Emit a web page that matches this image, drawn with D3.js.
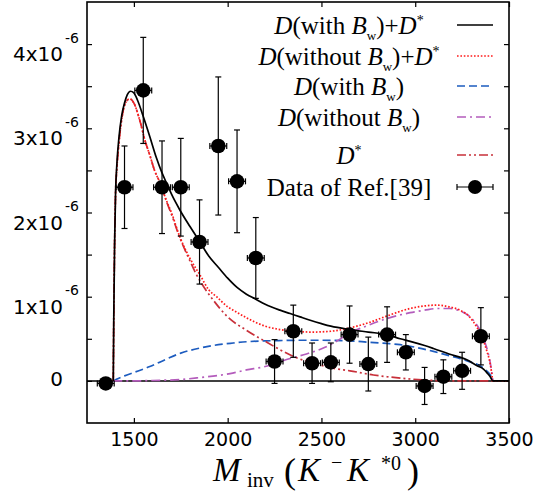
<!DOCTYPE html>
<html><head><meta charset="utf-8">
<script src="https://cdn.jsdelivr.net/npm/d3@7"></script>
<style>body{margin:0;background:#fff}</style>
</head><body><svg id="c" width="535" height="496"></svg>
<script>
// ---------- DATA (y values in units of 10^-6) ----------
const xTickValues = [1500, 2000, 2500, 3000, 3500];
const yTickValues = [0, 1, 2, 3, 4];
const yTickLabels = ["0", "1x10", "2x10", "3x10", "4x10"];
const yTickExponents = ["", "-6", "-6", "-6", "-6"];
const yAllTicks = [0, 0.5, 1, 1.5, 2, 2.5, 3, 3.5, 4];

const dataX = [1350,1450,1550,1650,1750,1850,1950,2050,2150,2250,2350,2450,2550,2650,2750,2850,2950,3050,3150,3250,3350];
const dataY = [-0.03,2.30,3.45,2.30,2.30,1.65,2.79,2.37,1.46,0.23,0.59,0.21,0.22,0.55,0.20,0.55,0.34,-0.06,0.05,0.12,0.53];
const dataErr = [0.0,0.49,0.63,0.55,0.58,0.50,0.82,0.61,0.48,0.26,0.31,0.24,0.23,0.34,0.32,0.33,0.21,0.22,0.20,0.22,0.34];
const dataXErr = 45;

// D(with Bw)+D*
const totalWithX = [1390,1393,1397,1402,1410,1420,1435,1450,1465,1482,1500,1520,1550,1585,1620,1650,1674,1700,1745,1800,1852,1900,1950,2000,2050,2100,2150,2200,2279,2333,2386,2440,2500,2550,2652,2750,2848,2920,2973,3050,3097,3180,3275,3330,3364,3385,3400,3414,3500];
const totalWithY = [0,0.8,1.6,2.2,2.6,2.88,3.15,3.30,3.40,3.44,3.42,3.33,3.14,2.90,2.65,2.47,2.35,2.22,2.03,1.83,1.65,1.48,1.35,1.22,1.11,1.03,0.97,0.91,0.84,0.80,0.76,0.72,0.68,0.65,0.61,0.58,0.55,0.50,0.47,0.42,0.385,0.32,0.25,0.18,0.14,0.09,0.05,0,0];
// D(without Bw)+D*
const totalWithoutX = [1390,1393,1397,1402,1410,1420,1443,1460,1478,1500,1532,1560,1585,1610,1638,1674,1700,1745,1800,1852,1900,1941,2000,2030,2100,2200,2279,2350,2450,2550,2652,2750,2848,2973,3050,3114,3180,3239,3290,3328,3360,3381,3400,3408,3414,3500];
const totalWithoutY = [0,0.8,1.6,2.2,2.55,2.82,3.21,3.32,3.35,3.30,3.09,2.85,2.68,2.50,2.36,2.14,2.0,1.71,1.45,1.26,1.08,1.0,0.88,0.84,0.75,0.65,0.61,0.59,0.58,0.59,0.63,0.69,0.77,0.86,0.89,0.90,0.88,0.84,0.76,0.64,0.50,0.36,0.2,0.09,0,0];
// D(with Bw)
const dWithX = [1390,1407,1450,1500,1585,1674,1750,1852,1950,2030,2100,2200,2300,2400,2500,2652,2750,2848,2920,3000,3097,3180,3240,3300,3346,3380,3400,3414];
const dWithY = [0,0.02,0.06,0.10,0.17,0.26,0.33,0.39,0.43,0.45,0.465,0.475,0.48,0.483,0.483,0.475,0.46,0.445,0.43,0.40,0.35,0.30,0.265,0.22,0.18,0.12,0.07,0];
// D(without Bw)
const dWithoutX = [1390,1500,1600,1745,1852,2013,2100,2190,2333,2420,2510,2580,2652,2750,2848,2973,3050,3120,3185,3240,3275,3310,3346,3370,3390,3405,3414];
const dWithoutY = [0,0,0.005,0.016,0.04,0.087,0.13,0.166,0.266,0.32,0.39,0.47,0.57,0.66,0.74,0.81,0.84,0.86,0.86,0.83,0.79,0.72,0.60,0.47,0.32,0.15,0];
// D*
const dStarX = [1390,1393,1397,1402,1410,1420,1443,1460,1478,1500,1532,1560,1585,1610,1638,1674,1700,1745,1800,1834,1852,1923,2000,2101,2200,2279,2350,2474,2563,2652,2777,2848,2937,3050,3200,3414];
const dStarY = [0,0.8,1.6,2.2,2.55,2.82,3.21,3.32,3.35,3.30,3.09,2.85,2.68,2.50,2.36,2.13,1.98,1.70,1.42,1.26,1.19,0.96,0.76,0.60,0.47,0.37,0.29,0.20,0.15,0.12,0.07,0.05,0.03,0.01,0,0];

// ---------- DRAWING ----------
const svg = d3.select("#c");
const L = 87, R = 509, T = 2, B = 423;
const x = d3.scaleLinear().domain([1250, 3500]).range([L, R]);
const y = d3.scaleLinear().domain([-0.5, 4.5]).range([B, T]);

const sansFont = "DejaVu Sans";
const serifFont = "Liberation Serif";

// axes ticks (inward)
const gB = svg.append("g").attr("transform", `translate(0,${B})`)
  .call(d3.axisBottom(x).tickValues(xTickValues).tickSizeInner(-5).tickSizeOuter(0).tickPadding(10).tickFormat(d3.format("d")));
gB.selectAll("text").attr("font-family", sansFont).attr("font-size", 19).attr("fill", "#000");
const gT = svg.append("g").attr("transform", `translate(0,${T})`)
  .call(d3.axisTop(x).tickValues(xTickValues).tickSizeInner(-5).tickSizeOuter(0).tickFormat(""));
const gL = svg.append("g").attr("transform", `translate(${L},0)`)
  .call(d3.axisLeft(y).tickValues(yAllTicks).tickSizeInner(-5).tickSizeOuter(0).tickFormat(""));
const gR = svg.append("g").attr("transform", `translate(${R},0)`)
  .call(d3.axisRight(y).tickValues(yAllTicks).tickSizeInner(-5).tickSizeOuter(0).tickFormat(""));
[gB, gT, gL, gR].forEach(g => {
  g.select(".domain").remove();
  g.selectAll("line").attr("stroke", "#000").attr("stroke-width", 1.2);
});

// y tick labels
yTickValues.forEach((v, i) => {
  const ty = y(v);
  if (yTickExponents[i] === "") {
    svg.append("text").attr("x", 63).attr("y", ty + 5.5).attr("text-anchor", "end")
      .attr("font-family", sansFont).attr("font-size", 20).text(yTickLabels[i]);
  } else {
    svg.append("text").attr("x", 63).attr("y", ty + 17).attr("text-anchor", "end")
      .attr("font-family", sansFont).attr("font-size", 20).text(yTickLabels[i]);
    svg.append("text").attr("x", 65).attr("y", ty - 1.5).attr("text-anchor", "start")
      .attr("font-family", sansFont).attr("font-size", 14).text(yTickExponents[i]);
  }
});

// zero line
svg.append("line").attr("x1", L).attr("x2", R).attr("y1", y(0)).attr("y2", y(0))
  .attr("stroke", "#000").attr("stroke-width", 1.5);

// curves
const styles = {
  totalWith:    {color: "#000000", dash: null},
  totalWithout: {color: "#ff1a1a", dash: "1.6,1.8"},
  dWith:        {color: "#1d5cbf", dash: "8,4"},
  dWithout:     {color: "#b45cbc", dash: "9,4,2,4"},
  dStar:        {color: "#c8303a", dash: "9,3,2,3,2,3"}
};
const curveData = {
  totalWith: [totalWithX, totalWithY],
  totalWithout: [totalWithoutX, totalWithoutY],
  dWith: [dWithX, dWithY],
  dWithout: [dWithoutX, dWithoutY],
  dStar: [dStarX, dStarY]
};
const lineGen = d3.line().x(d => x(d[0])).y(d => y(d[1])).curve(d3.curveMonotoneX);
const drawOrder = ["dWith", "dWithout", "dStar", "totalWithout", "totalWith"];
drawOrder.forEach(k => {
  const [xs, ys] = curveData[k];
  const pts = xs.map((v, i) => [v, ys[i]]);
  const p = svg.append("path").datum(pts).attr("d", lineGen)
    .attr("fill", "none").attr("stroke", styles[k].color).attr("stroke-width", 1.7);
  if (styles[k].dash) p.attr("stroke-dasharray", styles[k].dash);
});

// data points
const pts = dataX.map((v, i) => ({x: v, y: dataY[i], e: dataErr[i]}));
const gD = svg.append("g");
const cap = 3;
pts.forEach(d => {
  const cx = x(d.x), cy = y(d.y);
  if (d.e > 0) {
    const y1 = y(d.y + d.e), y2 = y(d.y - d.e);
    gD.append("line").attr("x1", cx).attr("x2", cx).attr("y1", y1).attr("y2", y2);
    gD.append("line").attr("x1", cx - cap).attr("x2", cx + cap).attr("y1", y1).attr("y2", y1);
    gD.append("line").attr("x1", cx - cap).attr("x2", cx + cap).attr("y1", y2).attr("y2", y2);
  }
  const xa = x(d.x - dataXErr), xb = x(d.x + dataXErr);
  gD.append("line").attr("x1", xa).attr("x2", xb).attr("y1", cy).attr("y2", cy);
  gD.append("line").attr("x1", xa).attr("x2", xa).attr("y1", cy - cap).attr("y2", cy + cap);
  gD.append("line").attr("x1", xb).attr("x2", xb).attr("y1", cy - cap).attr("y2", cy + cap);
  gD.append("circle").attr("cx", cx).attr("cy", cy).attr("r", 7.3).attr("fill", "#000");
});
gD.selectAll("line").attr("stroke", "#000").attr("stroke-width", 1.2);

// frame
svg.append("rect").attr("x", L).attr("y", T).attr("width", R - L).attr("height", B - T)
  .attr("fill", "none").attr("stroke", "#000").attr("stroke-width", 1.6);

// legend
const legendItems = [
  {key: "totalWith", segs: [["D","i"],["(with "],["B","i"],["w","sub"],[")+"],["D","i"],["*","sup"]]},
  {key: "totalWithout", segs: [["D","i"],["(without "],["B","i"],["w","sub"],[")+"],["D","i"],["*","sup"]]},
  {key: "dWith", segs: [["D","i"],["(with "],["B","i"],["w","sub"],[")"]]},
  {key: "dWithout", segs: [["D","i"],["(without "],["B","i"],["w","sub"],[")"]]},
  {key: "dStar", segs: [["D","i"],["*","sup"]]},
  {key: "data", segs: [["Data of Ref.[39]"]]}
];
const legendRowY = [25, 56, 86, 117, 155, 187];
const legendTextX = 349, lx1 = 457, lx2 = 493;
legendItems.forEach((it, i) => {
  const ry = legendRowY[i];
  const t = svg.append("text").attr("x", legendTextX).attr("y", ry + 9).attr("text-anchor", "middle")
    .attr("font-family", serifFont).attr("font-size", 25).attr("fill", "#000");
  let shift = 0;
  it.segs.forEach(s => {
    const ts = t.append("tspan").text(s[0]);
    let target = 0;
    if (s[1] === "i") ts.attr("font-style", "italic");
    if (s[1] === "sub") { ts.attr("font-size", 13); target = 6; }
    if (s[1] === "sup") { ts.attr("font-size", 14); target = -9; }
    if (target !== shift) { ts.attr("dy", target - shift); shift = target; }
  });
  if (it.key === "data") {
    svg.append("line").attr("x1", lx1).attr("x2", lx2).attr("y1", ry).attr("y2", ry).attr("stroke", "#000").attr("stroke-width", 1.2);
    svg.append("line").attr("x1", lx1).attr("x2", lx1).attr("y1", ry - cap).attr("y2", ry + cap).attr("stroke", "#000").attr("stroke-width", 1.2);
    svg.append("line").attr("x1", lx2).attr("x2", lx2).attr("y1", ry - cap).attr("y2", ry + cap).attr("stroke", "#000").attr("stroke-width", 1.2);
    svg.append("circle").attr("cx", (lx1 + lx2) / 2).attr("cy", ry).attr("r", 7).attr("fill", "#000");
  } else {
    const l = svg.append("line").attr("x1", lx1).attr("x2", lx2).attr("y1", ry).attr("y2", ry)
      .attr("stroke", styles[it.key].color).attr("stroke-width", 1.7);
    if (styles[it.key].dash) l.attr("stroke-dasharray", styles[it.key].dash);
  }
});

// x axis title: M_inv (K^- K^{*0})
const titleParts = [
  {t: "M", x: 213, dy: 0, size: 33, it: true},
  {t: "inv", x: 247, dy: 6, size: 21},
  {t: "(", x: 284, dy: 2, size: 36},
  {t: "K", x: 298, dy: 0, size: 33, it: true},
  {t: "\u2212", x: 331, dy: -12, size: 20},
  {t: "K", x: 347, dy: 0, size: 33, it: true},
  {t: "*0", x: 381, dy: -11, size: 20},
  {t: ")", x: 407, dy: 2, size: 36}
];
const xt = svg.append("text").attr("font-family", serifFont).attr("fill", "#000");
titleParts.forEach(p => {
  const ts = xt.append("tspan").attr("x", p.x).attr("y", 481 + p.dy).attr("font-size", p.size).text(p.t);
  if (p.it) ts.attr("font-style", "italic");
});
</script>
</body></html>
